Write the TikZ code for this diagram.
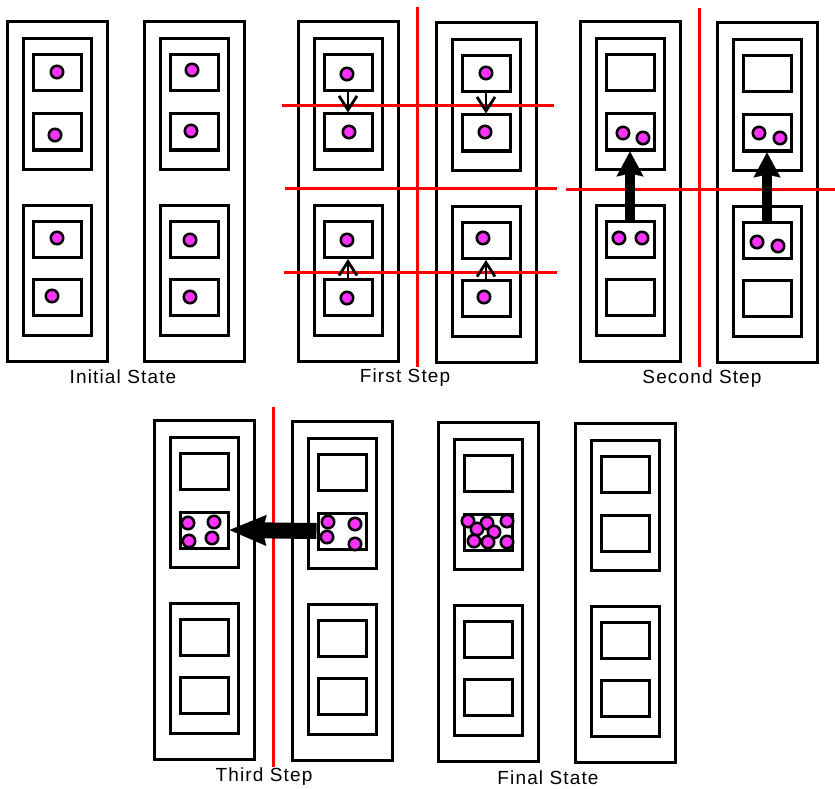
\documentclass[tikz,border=0pt]{standalone}
\usepackage{fontspec}
\setmainfont[LetterSpace=6]{Liberation Sans}
\usetikzlibrary{arrows.meta}
\definecolor{tokenpink}{HTML}{FF33FF}

\begin{document}
\begin{tikzpicture}[x=1pt,y=-1pt,
outerbox/.style={draw, line width=3pt, inner sep=0pt, minimum width=100pt, minimum height=339pt},
groupbox/.style={draw, line width=3pt, inner sep=0pt, minimum width=68pt, minimum height=130pt},
cellbox/.style={draw, line width=3pt, inner sep=0pt, minimum width=48pt, minimum height=36pt},
token/.style={draw, line width=2.6pt, fill=tokenpink},
cut/.style={red, line width=3pt},
hop/.style={line width=2.8pt, -{Straight Barb[length=14pt,width=18pt]}},
push/.style={line width=10pt, -{Stealth[length=25pt,width=27pt,inset=3pt,line width=0.1pt]}},
caption/.style={anchor=base, font=\fontsize{19}{22}\selectfont}
]
\useasboundingbox (0,0) rectangle (835,789);
%% Columns: outer frame, two groups, four cells
\foreach \c/\x/\y in {I1/7/22, I2/144/22, F1/298/22, F2/436/23, S1/580/22, S2/717/23,
  T1/154/420, T2/292/421, Z1/438/422, Z2/575/423}{
  \node[outerbox] (\c) at (\x+50,\y+169.5) {};
  \node[groupbox] (\c-a) at (\x+50,\y+82) {};
  \node[groupbox] (\c-b) at (\x+50,\y+248.5) {};
  \node[cellbox] (\c-1) at (\x+50,\y+51) {};
  \node[cellbox] (\c-2) at (\x+50,\y+110) {};
  \node[cellbox] (\c-3) at (\x+50,\y+217.5) {};
  \node[cellbox] (\c-4) at (\x+50,\y+275.5) {};
}
%% Tokens
\foreach \p in {(57,72),(55,135),(57,238),(52,296),(192,70),(191,131),(190,240),(190,297),
  (347,74),(349,132),(347,240),(347,298),(486,73),(485,132),(483,238),(484,297),
  (623,133),(643,138),(619,238),(642,238),(759,133),(780,138),(757,242),(778,246),
  (188,523),(214,522),(189,541),(212,538),(328,522),(355,524),(327,537),(355,544),
  (468,521),(487,523),(507,521),(477,529),(494,532),(474,541),(488,542),(507,542)}
  \draw[token] \p circle (6.2);
%% Cuts
\draw[cut](417,7)--(417,367);
\draw[cut](282,106)--(554,106);
\draw[cut](285,188)--(557,188);
\draw[cut](284,272)--(557,272);
\draw[cut](699,8)--(699,367);
\draw[cut](566,189)--(835,189);
\draw[cut](273,407)--(273,767);
%% Moves
\draw[hop](F1-1.south)--(F1-2.north);
\draw[hop](F2-1.south)--(F2-2.north);
\draw[hop](F1-4.north)--(F1-3.south);
\draw[hop](F2-4.north)--(F2-3.south);
\draw[push](S1-3.north)--(S1-2.south);
\draw[push](S2-3.north)--(S2-2.south);
\draw[push,line width=16pt,-{Stealth[length=37pt,width=31pt,inset=4pt,line width=0.1pt]}](T2-2.west)--(T1-2.east);
%% Captions
\node[caption] (cap-init) at (123,383) {Initial State};
\node[caption] (cap-first) at (405,382) {First Step};
\node[caption] (cap-second) at (702,383) {Second Step};
\node[caption] (cap-third) at (264,781) {Third Step};
\node[caption] (cap-final) at (548,784) {Final State};
\end{tikzpicture}
\end{document}
